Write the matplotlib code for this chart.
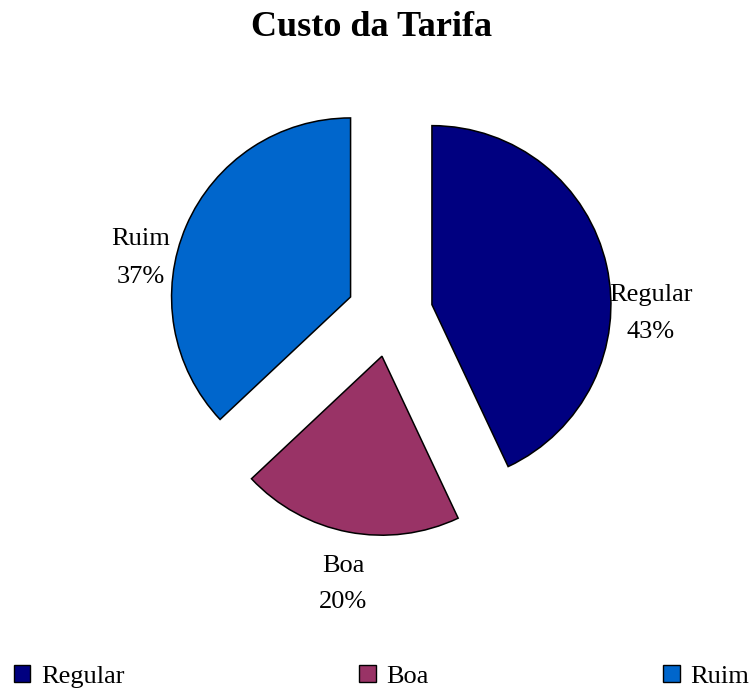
import numpy as np
import matplotlib
matplotlib.use("Agg")
import matplotlib.pyplot as plt
from matplotlib.patches import Patch

labels = ['Regular', 'Boa', 'Ruim']
values = [43, 20, 37]
colors = ['#000080', '#993366', '#0066CC']
title = 'Custo da Tarifa'

plt.rcParams['font.family'] = ['Liberation Serif', 'DejaVu Serif']

W, H = 752, 691
fig = plt.figure(figsize=(W / 100, H / 100), dpi=100)
ax = fig.add_axes([0, 0, 1, 1])

wedges, _ = ax.pie(values, colors=colors, startangle=90, counterclock=False,
                   explode=[0.24] * 3, radius=1.0,
                   wedgeprops=dict(edgecolor='black', linewidth=1.1))
# pie centre at (390, 314) px, radius 179 px
ax.set_xlim(-390 / 179, (W - 390) / 179)
ax.set_ylim(-(H - 314) / 179, 314 / 179)
ax.set_aspect('auto')
ax.axis('off')


def fx(px):
    return px / W


def fy(py):
    return 1 - py / H


# data labels: (x centre, baseline of name, baseline of percent) in px
label_pos = {'Regular': (651, 301, 338), 'Boa': (343, 572, 608),
             'Ruim': (141, 245, 283)}
for lab, v in zip(labels, values):
    x, b1, b2 = label_pos[lab]
    fig.text(fx(x), fy(b1), lab, ha='center', va='baseline', fontsize=19)
    fig.text(fx(x), fy(b2), f"{v}%", ha='center', va='baseline', fontsize=19)

fig.text(fx(371.5), fy(36), title, ha='center', va='baseline', fontsize=26,
         fontweight='bold')

handles = [Patch(facecolor=c, edgecolor='black', linewidth=1.0) for c in colors]
fig.legend(handles, labels, loc='lower left', ncol=3,
           bbox_to_anchor=(fx(14), fy(688)), frameon=False, fontsize=19,
           handlelength=0.62, handleheight=0.6, handletextpad=0.4,
           columnspacing=8.9, borderpad=0.0, borderaxespad=0.0)

fig.savefig('out.png', dpi=100)
